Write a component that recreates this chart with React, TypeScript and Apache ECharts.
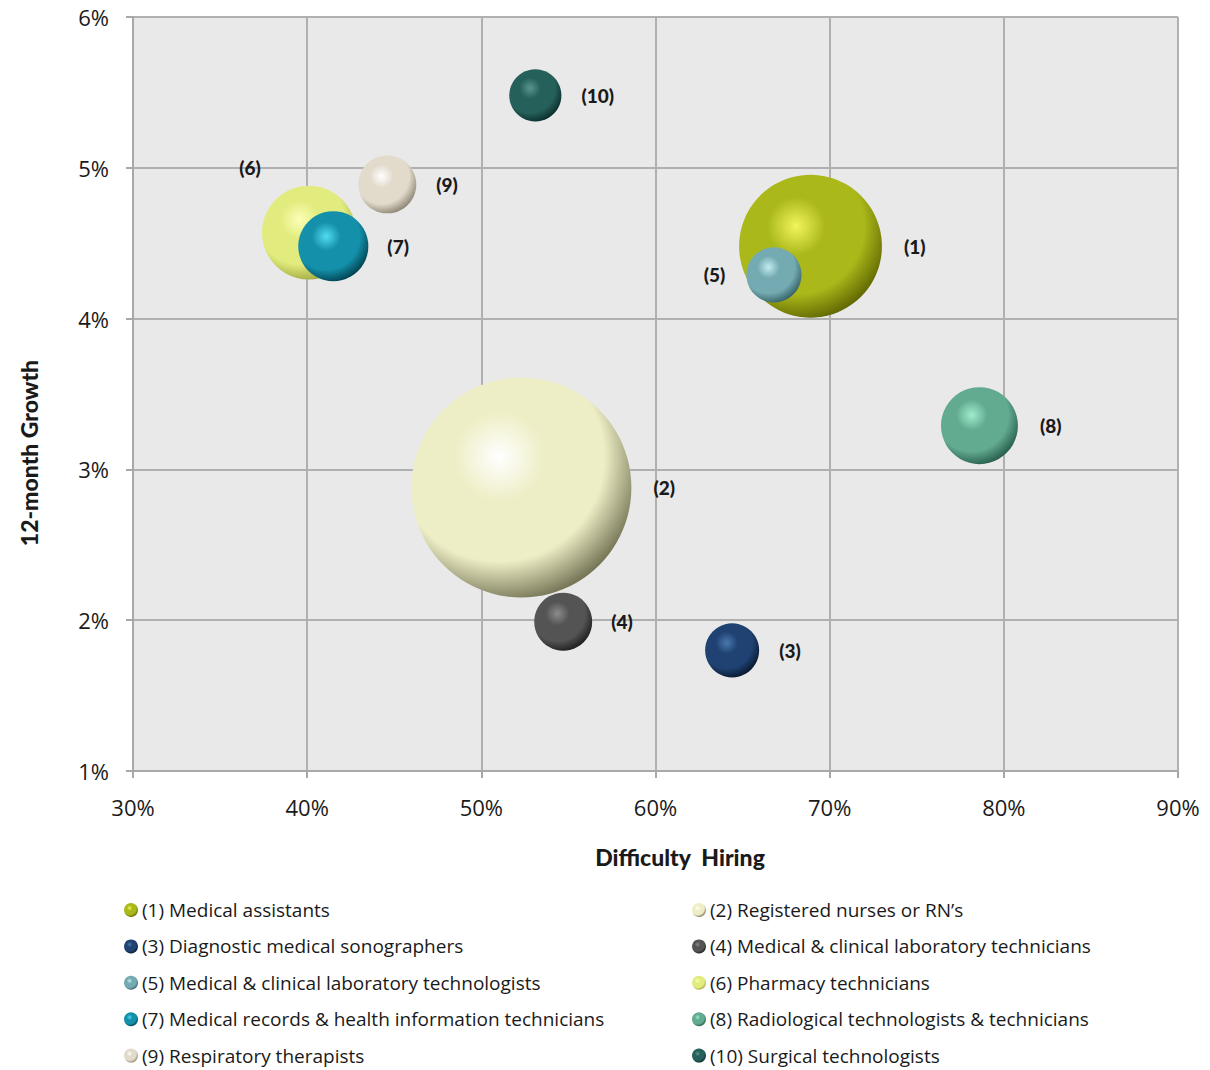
import React, { useEffect, useRef } from "react";
import * as echarts from "echarts";

const occupations = [
  "Medical assistants",
  "Registered nurses or RN’s",
  "Diagnostic medical sonographers",
  "Medical & clinical laboratory technicians",
  "Medical & clinical laboratory technologists",
  "Pharmacy technicians",
  "Medical records & health information technicians",
  "Radiological technologists & technicians",
  "Respiratory therapists",
  "Surgical technologists",
];
const difficultyHiring = [68.9, 52.3, 64.4, 54.7, 66.8, 40.1, 41.5, 78.6, 44.6, 53.1];
const growth12m = [4.48, 2.88, 1.8, 1.99, 4.29, 4.57, 4.48, 3.29, 4.89, 5.48];
const bubbleSize = [51, 121, 7.3, 8.4, 7.6, 22, 12.3, 14.8, 8.4, 6.8];

const xAxisTicks = { min: 30, max: 90, interval: 10 };
const yAxisTicks = { min: 1, max: 6, interval: 1 };

// [highlight, base, shadow]
const sphereColors = [
  ["#f2f65a", "#aab81a", "#5d6400"],
  ["#ffffff", "#eeeec6", "#6e6e50"],
  ["#4a78ac", "#1f4272", "#08162c"],
  ["#8c8c8c", "#545454", "#1c1c1c"],
  ["#c0ecf0", "#74aab2", "#325e64"],
  ["#fbffb8", "#e2ec7e", "#9ea43c"],
  ["#52dcf0", "#1590aa", "#003e4c"],
  ["#a0eccc", "#62aa90", "#245a48"],
  ["#ffffff", "#e2dacb", "#8a8270"],
  ["#5a968c", "#25605a", "#0a2a28"],
];

// label placement per bubble (style only)
const labelPlacement: any[] = [
  { position: "right", distance: 22 },
  { position: "right", distance: 22 },
  { position: "right", distance: 20 },
  { position: "right", distance: 19 },
  { position: "left", distance: 21 },
  { position: [-12, -18], align: "center", verticalAlign: "middle" },
  { position: "right", distance: 19 },
  { position: "right", distance: 22 },
  { position: "right", distance: 20 },
  { position: "right", distance: 20 },
];

const sphere = (c: string[]) => ({
  type: "radial",
  x: 0.4,
  y: 0.36,
  r: 0.68,
  colorStops: [
    { offset: 0, color: c[0] },
    { offset: 0.3, color: c[1] },
    { offset: 0.7, color: c[1] },
    { offset: 1, color: c[2] },
  ],
});

const seriesName = (i: number) => `(${i + 1}) ${occupations[i]}`;

export default function App() {
  const ref = useRef<HTMLDivElement>(null);
  useEffect(() => {
    if (!ref.current) return;
    const chart = echarts.init(ref.current, null, { renderer: "svg" });
    const font = "Open Sans";
    const boldFont = "Lato";
    const series = occupations.map((_, i) => ({
      name: seriesName(i),
      type: "scatter",
      data: [[difficultyHiring[i], growth12m[i], bubbleSize[i]]],
      symbolSize: (v: number[]) => 20 * Math.sqrt(v[2]),
      itemStyle: { color: sphere(sphereColors[i]) as any, opacity: 1 },
      label: {
        show: true,
        formatter: `(${i + 1})`,
        fontFamily: boldFont,
        fontWeight: 900,
        fontSize: 19,
        color: "#1a1a1a",
        ...labelPlacement[i],
      },
      emphasis: { disabled: true },
    }));
    const leftNames = occupations.map((_, i) => i).filter((i) => i % 2 === 0).map(seriesName);
    const rightNames = occupations.map((_, i) => i).filter((i) => i % 2 === 1).map(seriesName);
    const legendBase = {
      orient: "vertical",
      top: 900,
      padding: 0,
      itemWidth: 14,
      itemHeight: 14,
      itemGap: 16.4,
      icon: "circle",
      selectedMode: false,
      textStyle: { fontFamily: font, fontSize: 19, lineHeight: 20, color: "#1a1a1a", padding: [0, 0, 0, -1] },
    };
    chart.setOption({
      animation: false,
      backgroundColor: "#ffffff",
      grid: {
        left: 133,
        right: 32,
        top: 17,
        bottom: 299,
        show: true,
        backgroundColor: "#e9e9e9",
        borderWidth: 0,
      },
      xAxis: {
        type: "value",
        ...xAxisTicks,
        axisLine: { show: true, lineStyle: { color: "#a8a8a8", width: 2 } },
        axisTick: { show: true, length: 7, lineStyle: { color: "#a8a8a8", width: 2 } },
        splitLine: { show: true, lineStyle: { color: "#b0b0b0", width: 2 } },
        axisLabel: {
          formatter: "{value}%",
          fontFamily: font,
          fontSize: 22,
          color: "#1a1a1a",
          margin: 25,
        },
      },
      yAxis: {
        type: "value",
        ...yAxisTicks,
        axisLine: { show: true, lineStyle: { color: "#a8a8a8", width: 2 } },
        axisTick: { show: true, length: 7, lineStyle: { color: "#a8a8a8", width: 2 } },
        splitLine: { show: true, lineStyle: { color: "#b0b0b0", width: 2 } },
        axisLabel: {
          formatter: "{value}%",
          fontFamily: font,
          fontSize: 22,
          color: "#1a1a1a",
          margin: 24,
        },
      },
      legend: [
        { ...legendBase, left: 124, data: leftNames },
        { ...legendBase, left: 692, data: rightNames },
      ],
      graphic: [
        {
          type: "text",
          x: 680,
          y: 857,
          style: {
            text: "Difficulty  Hiring",
            fontFamily: boldFont,
            fontWeight: 900,
            fontSize: 23,
            fill: "#1a1a1a",
            align: "center",
            verticalAlign: "middle",
          },
        },
        {
          type: "text",
          x: 29,
          y: 453,
          rotation: Math.PI / 2,
          style: {
            text: "12-month Growth",
            fontFamily: boldFont,
            fontWeight: 900,
            fontSize: 23,
            fill: "#1a1a1a",
            align: "center",
            verticalAlign: "middle",
          },
        },
      ],
      series,
    });
    return () => chart.dispose();
  }, []);
  return <div ref={ref} style={{ width: 1210, height: 1070, position: "absolute", left: 0, top: 0 }} />;
}
